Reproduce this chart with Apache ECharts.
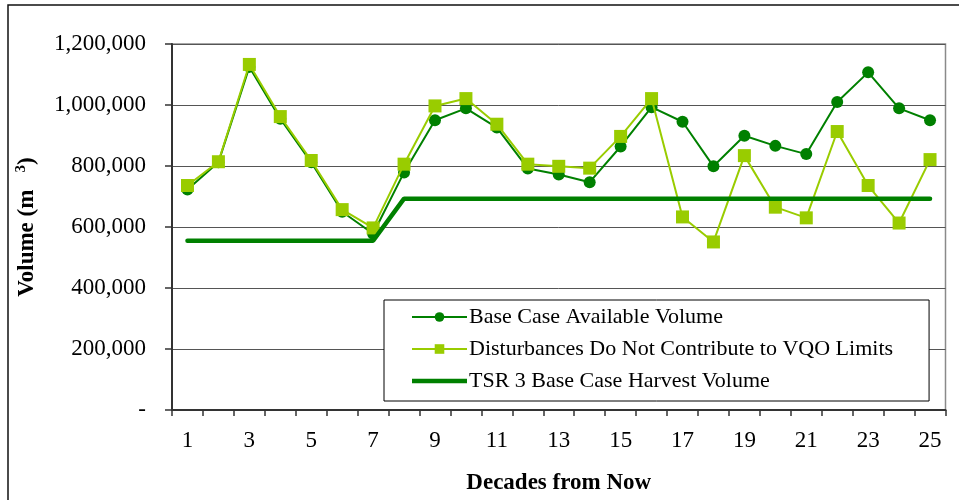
<!DOCTYPE html>
<html>
<head>
<meta charset="utf-8">
<title>Volume by Decade</title>
<script src="https://cdn.jsdelivr.net/npm/echarts@6/dist/echarts.min.js"></script>
<style>
  html, body { margin: 0; padding: 0; background: #ffffff; }
  #chart { width: 959px; height: 500px; }
</style>
</head>
<body>
<div id="chart"></div>
<script>
// Decades from now (x axis)
const decades = ['1','2','3','4','5','6','7','8','9','10','11','12','13','14','15','16','17','18','19','20','21','22','23','24','25'];

// Base case available volume (m3)
const baseCaseVolume = [
  723000, 812000, 1125000, 955000, 812000, 650000, 578000, 779000, 950000, 989000,
  926000, 792000, 772000, 747000, 864000, 993000, 945000, 799000, 899000, 866000,
  839000, 1010000, 1107000, 989000, 950000
];

// Disturbances do not contribute to VQO limits (m3)
const disturbanceVolume = [
  736000, 814000, 1133000, 962000, 818000, 657000, 597000, 806000, 997000, 1021000,
  937000, 806000, 799000, 793000, 897000, 1021000, 633000, 551000, 834000, 665000,
  630000, 913000, 736000, 613000, 821000
];

// TSR 3 base case harvest volume (m3)
const harvestVolume = [
  555000, 555000, 555000, 555000, 555000, 555000, 555000, 693000, 693000, 693000,
  693000, 693000, 693000, 693000, 693000, 693000, 693000, 693000, 693000, 693000,
  693000, 693000, 693000, 693000, 693000
];

// Y axis range and step
const yMin = 0;
const yMax = 1200000;
const yStep = 200000;

const seriesNames = [
  'Base Case Available Volume',
  'Disturbances Do Not Contribute to VQO Limits',
  'TSR 3 Base Case Harvest Volume'
];

const FONT = "'Liberation Serif', 'Times New Roman', serif";
const DARK_GREEN = '#008000';
const LIME = '#99CC00';

const chart = echarts.init(document.getElementById('chart'), null, { renderer: 'canvas' });

chart.setOption({
  backgroundColor: '#ffffff',
  animation: false,
  textStyle: { fontFamily: FONT, color: '#000' },
  graphic: [{
    type: 'rect',
    shape: { x: 8, y: 5, width: 1000, height: 600 },
    style: { fill: 'none', stroke: '#111', lineWidth: 1.5 },
    silent: true,
    z: -10
  }],
  grid: {
    left: 172, right: 13.5, top: 44, bottom: 90,
    show: true,
    borderColor: '#8a8a8a',
    borderWidth: 1.5,
    backgroundColor: 'transparent'
  },
  legend: {
    orient: 'vertical',
    left: 384,
    top: 300,
    padding: [6, 36, 9, 27],
    itemWidth: 55,
    itemHeight: 12,
    itemGap: 10,
    backgroundColor: '#ffffff',
    borderColor: '#000',
    borderWidth: 1,
    borderRadius: 0,
    textStyle: { fontFamily: FONT, fontSize: 22, color: '#000', padding: [0, 0, 0, -3] },
    data: [
      { name: seriesNames[0] },
      { name: seriesNames[1] },
      // plain thick line sample for the harvest level
      { name: seriesNames[2], icon: 'path://M0,0L100,0L100,8.5L0,8.5Z', itemStyle: { color: DARK_GREEN } }
    ]
  },
  xAxis: {
    type: 'category',
    data: decades,
    boundaryGap: true,
    name: 'Decades from Now',
    nameLocation: 'middle',
    nameGap: 62,
    nameTextStyle: { fontFamily: FONT, fontSize: 23, fontWeight: 'bold', color: '#000' },
    axisLine: { show: true, lineStyle: { color: '#333', width: 2 } },
    axisTick: { show: true, interval: 0, length: 6, lineStyle: { color: '#333', width: 1.5 } },
    axisLabel: { interval: 1, margin: 19, fontFamily: FONT, fontSize: 23, color: '#000' },
    splitLine: { show: false }
  },
  yAxis: {
    type: 'value',
    min: yMin,
    max: yMax,
    interval: yStep,
    name: 'Volume (m   {sup|3})',
    nameLocation: 'middle',
    nameGap: 131,
    nameRotate: 90,
    nameTextStyle: {
      fontFamily: FONT, fontSize: 23, fontWeight: 'bold', color: '#000',
      rich: {
        sup: { fontFamily: FONT, fontSize: 15, fontWeight: 'bold', color: '#000', padding: [0, 0, 12, 0] }
      }
    },
    axisLine: { show: true, lineStyle: { color: '#333', width: 2 } },
    axisTick: { show: true, length: 7, lineStyle: { color: '#333', width: 1.5 } },
    axisLabel: {
      margin: 26,
      fontFamily: FONT,
      fontSize: 23,
      color: '#000',
      formatter: function (v) {
        return v === 0 ? '-' : v.toLocaleString('en-US');
      }
    },
    splitLine: { show: true, lineStyle: { color: '#555', width: 1 } }
  },
  series: [
    {
      name: seriesNames[0],
      type: 'line',
      data: baseCaseVolume,
      symbol: 'circle',
      symbolSize: 12,
      itemStyle: { color: DARK_GREEN },
      lineStyle: { color: DARK_GREEN, width: 2 },
      z: 2
    },
    {
      name: seriesNames[1],
      type: 'line',
      data: disturbanceVolume,
      symbol: 'rect',
      symbolSize: 13,
      itemStyle: { color: LIME },
      lineStyle: { color: LIME, width: 2 },
      z: 3
    },
    {
      name: seriesNames[2],
      type: 'line',
      data: harvestVolume,
      symbol: 'none',
      showSymbol: false,
      itemStyle: { color: DARK_GREEN },
      lineStyle: { color: DARK_GREEN, width: 4.5, cap: 'round' },
      z: 4
    }
  ]
});
</script>
</body>
</html>
